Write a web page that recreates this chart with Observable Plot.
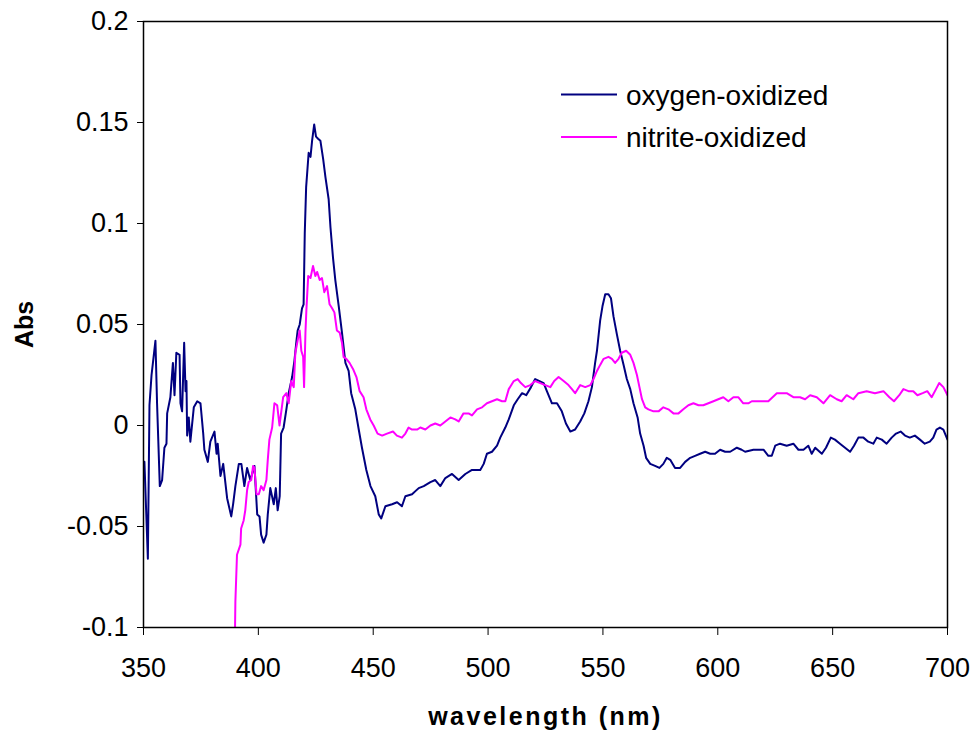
<!DOCTYPE html>
<html>
<head>
<meta charset="utf-8">
<script src="https://cdn.jsdelivr.net/npm/d3@7"></script>
<script src="https://cdn.jsdelivr.net/npm/@observablehq/plot@0.6"></script>
<style>
  html, body { margin: 0; padding: 0; background: white; }
  #wrap { position: relative; width: 978px; height: 736px; }
  #legend { position: absolute; left: 0; top: 0; pointer-events: none; }
</style>
</head>
<body>
<div id="wrap"></div>
<script>
// ---- data ----
const seriesNames = ["oxygen-oxidized", "nitrite-oxidized"];
const seriesColors = ["#000080", "#FF00FF"];
const xTicks = [350, 400, 450, 500, 550, 600, 650, 700];
const yTicks = [-0.1, -0.05, 0, 0.05, 0.1, 0.15, 0.2];

const oxyNm = [350.4,351.9,352.6,353.5,355.2,355.9,357.1,358.1,359.1,360.0,360.3,361.7,362.8,363.5,364.3,365.7,366.1,366.8,367.7,368.3,368.7,369.0,369.7,370.4,371.9,373.4,374.8,376.0,376.5,378.0,379.1,380.9,381.8,382.3,383.5,384.7,386.4,388.2,389.0,390.0,391.5,392.6,393.9,395.1,396.5,398.3,399.5,400.5,401.2,402.3,403.5,404.1,405.2,406.7,407.6,408.4,409.3,409.9,411.0,412.2,413.2,414.7,415.7,416.6,417.1,418.0,419.0,419.7,420.2,420.8,421.9,422.7,423.4,424.3,425.1,426.0,427.0,428.2,429.2,430.6,431.4,432.5,433.5,435.0,436.4,437.9,439.3,440.4,442.2,443.7,445.1,447.0,448.8,450.9,452.4,453.5,455.3,458.2,460.4,462.5,464.0,466.9,469.8,472.0,474.9,477.0,479.2,481.4,484.3,487.2,490.1,493.0,496.6,498.1,499.5,501.7,503.9,505.3,507.5,509.0,511.2,512.9,514.8,516.6,518.7,520.5,522.4,524.2,525.6,527.8,530.0,532.1,533.9,535.8,537.9,540.1,541.9,543.7,545.2,546.6,547.4,548.8,549.8,551.0,552.4,553.5,554.6,556.1,557.5,559.0,560.4,561.9,563.3,565.1,566.2,567.7,568.8,570.6,572.7,574.6,576.3,577.8,579.3,581.4,583.6,585.8,588.0,590.1,592.3,594.5,596.7,598.8,601.0,603.2,605.4,608.3,610.4,611.9,615.5,619.9,622.0,623.5,625.0,627.1,630.0,632.9,635.1,637.3,639.4,640.9,642.4,645.3,647.1,649.2,651.0,653.2,655.4,657.6,659.3,661.2,663.4,665.5,667.7,669.2,671.4,673.5,675.7,677.6,679.6,681.5,683.6,685.8,688.0,690.1,692.3,693.8,695.2,696.7,698.2,700.0];
const oxyAbs = [-0.018,-0.066,0.010,0.025,0.042,0.011,-0.030,-0.027,-0.011,-0.009,0.006,0.014,0.031,0.015,0.036,0.035,0.011,0.007,0.041,0.017,0.022,-0.005,0.004,-0.008,0.009,0.012,0.011,-0.004,-0.012,-0.018,-0.008,-0.003,-0.014,-0.009,-0.025,-0.019,-0.036,-0.045,-0.039,-0.030,-0.019,-0.019,-0.030,-0.021,-0.027,-0.020,-0.044,-0.045,-0.054,-0.058,-0.054,-0.044,-0.031,-0.039,-0.031,-0.042,-0.035,-0.004,-0.001,0.008,0.016,0.024,0.032,0.042,0.047,0.050,0.058,0.060,0.095,0.118,0.135,0.133,0.141,0.149,0.143,0.142,0.141,0.132,0.123,0.112,0.098,0.083,0.072,0.059,0.046,0.031,0.027,0.016,0.008,-0.002,-0.011,-0.022,-0.030,-0.035,-0.044,-0.046,-0.040,-0.039,-0.038,-0.040,-0.035,-0.034,-0.031,-0.030,-0.028,-0.027,-0.030,-0.026,-0.024,-0.027,-0.024,-0.022,-0.022,-0.019,-0.014,-0.013,-0.010,-0.006,-0.001,0.003,0.010,0.013,0.016,0.015,0.019,0.023,0.022,0.021,0.017,0.011,0.011,0.007,0.001,-0.003,-0.002,0.002,0.006,0.012,0.019,0.031,0.037,0.052,0.059,0.065,0.065,0.063,0.054,0.045,0.037,0.030,0.023,0.018,0.011,0.004,-0.004,-0.010,-0.016,-0.019,-0.020,-0.021,-0.019,-0.016,-0.017,-0.021,-0.021,-0.018,-0.016,-0.015,-0.014,-0.013,-0.014,-0.014,-0.012,-0.013,-0.013,-0.011,-0.012,-0.013,-0.012,-0.012,-0.015,-0.015,-0.010,-0.009,-0.010,-0.009,-0.012,-0.012,-0.010,-0.014,-0.011,-0.014,-0.011,-0.006,-0.007,-0.009,-0.011,-0.013,-0.010,-0.006,-0.006,-0.008,-0.009,-0.006,-0.007,-0.009,-0.006,-0.004,-0.003,-0.005,-0.006,-0.005,-0.007,-0.009,-0.008,-0.006,-0.002,-0.001,-0.002,-0.007];

const nitNm = [389.5,390.0,390.7,392.2,392.5,393.6,394.3,395.1,395.8,396.9,397.7,398.3,399.2,400.2,401.2,402.3,403.5,404.1,404.8,406.0,407.0,408.2,409.2,410.8,412.2,413.2,414.3,415.4,416.1,417.1,418.0,418.7,419.5,419.9,420.5,420.9,421.7,422.7,423.8,424.8,425.6,426.7,427.7,428.7,429.9,431.0,432.1,433.1,434.2,435.4,436.4,437.1,438.3,439.7,441.2,442.7,444.1,445.8,447.0,448.7,450.2,451.9,453.9,456.0,458.6,460.3,462.5,464.0,465.4,466.9,469.1,470.5,472.7,474.9,477.0,479.2,481.4,483.6,485.7,487.2,489.3,491.5,493.0,495.2,497.4,499.5,501.7,503.9,506.1,507.5,509.0,511.2,512.9,514.3,516.2,518.4,520.5,522.7,524.9,527.1,528.8,530.7,532.9,535.0,536.5,537.9,540.1,542.3,544.5,545.9,547.4,548.8,550.3,552.4,553.9,555.3,556.8,558.2,560.1,561.9,563.3,564.8,565.9,567.0,568.4,569.8,572.0,574.2,576.3,578.5,580.7,582.9,585.0,587.2,589.4,591.6,593.7,595.9,598.1,600.2,602.4,604.6,606.8,608.9,611.1,613.3,614.8,618.4,622.0,625.7,630.0,632.9,635.8,638.0,640.2,643.1,646.0,648.9,651.8,653.9,656.1,659.0,661.2,664.8,668.4,672.1,674.7,676.7,679.0,680.8,683.0,685.1,686.9,689.2,691.2,693.1,695.0,696.4,698.2,700.0];
const nitAbs = [-0.13,-0.087,-0.064,-0.059,-0.051,-0.047,-0.042,-0.032,-0.028,-0.027,-0.020,-0.021,-0.034,-0.034,-0.030,-0.032,-0.027,-0.017,-0.007,-0.001,0.011,0.010,0.000,0.014,0.016,0.011,0.022,0.019,0.036,0.042,0.047,0.037,0.034,0.019,0.046,0.057,0.074,0.073,0.079,0.074,0.076,0.072,0.073,0.066,0.069,0.060,0.058,0.056,0.047,0.046,0.041,0.034,0.033,0.031,0.028,0.024,0.017,0.014,0.008,0.003,0.000,-0.004,-0.005,-0.004,-0.003,-0.005,-0.006,-0.004,-0.001,-0.002,-0.002,-0.001,-0.002,0.000,0.001,0.000,0.002,0.004,0.003,0.002,0.006,0.006,0.005,0.008,0.009,0.011,0.012,0.013,0.012,0.012,0.018,0.022,0.023,0.021,0.019,0.020,0.022,0.021,0.020,0.019,0.022,0.024,0.022,0.020,0.018,0.016,0.020,0.019,0.020,0.023,0.027,0.030,0.033,0.034,0.033,0.031,0.033,0.036,0.037,0.035,0.031,0.025,0.019,0.013,0.009,0.008,0.007,0.007,0.009,0.008,0.006,0.006,0.008,0.010,0.011,0.010,0.010,0.011,0.012,0.013,0.014,0.012,0.014,0.014,0.011,0.011,0.012,0.012,0.012,0.016,0.016,0.014,0.014,0.013,0.015,0.014,0.011,0.015,0.013,0.012,0.015,0.013,0.016,0.017,0.016,0.017,0.014,0.012,0.015,0.018,0.017,0.017,0.015,0.016,0.017,0.014,0.018,0.021,0.019,0.015];

// ---- build tables ----
const oxyData = oxyNm.map((x, i) => ({x, y: oxyAbs[i]}));
const nitData = nitNm.map((x, i) => ({x, y: nitAbs[i]}));
const fmtY = d => String(+d.toFixed(2)).replace("\u2212", "-");

const font = "'Liberation Sans', Arial, Helvetica, sans-serif";

const chart = Plot.plot({
  width: 978,
  height: 736,
  marginLeft: 143,
  marginRight: 31,
  marginTop: 21,
  marginBottom: 109,
  style: {fontFamily: font, fontSize: "27px", background: "white", color: "black", overflow: "visible"},
  x: {domain: [350, 700]},
  y: {domain: [-0.1, 0.2]},
  marks: [
    Plot.axisX({ticks: xTicks, tickSize: 8, tickPadding: 22, tickFormat: d => String(d), label: null, fontSize: 27}),
    Plot.axisY({ticks: yTicks, tickSize: 6, tickPadding: 9, tickFormat: fmtY, label: null, fontSize: 27}),
    Plot.line(oxyData, {x: "x", y: "y", stroke: seriesColors[0], strokeWidth: 2, clip: true}),
    Plot.line(nitData, {x: "x", y: "y", stroke: seriesColors[1], strokeWidth: 2, clip: true}),
    Plot.frame({stroke: "black", strokeWidth: 1.5}),
    Plot.text(["wavelength (nm)"], {frameAnchor: "bottom", dy: 97, textAnchor: "middle", fontWeight: "bold", fontSize: 25, fill: "black"}),
    Plot.text(["Abs"], {frameAnchor: "left", dx: -119, dy: 0, textAnchor: "middle", lineAnchor: "middle", rotate: -90, fontWeight: "bold", fontSize: 25, fill: "black"})
  ]
});

chart.querySelectorAll("text").forEach(t => {
  if (t.textContent === "wavelength (nm)") t.setAttribute("letter-spacing", "2.5");
});

const wrap = document.getElementById("wrap");
wrap.appendChild(chart);

// ---- legend overlay ----
const ns = "http://www.w3.org/2000/svg";
const leg = document.createElementNS(ns, "svg");
leg.setAttribute("id", "legend");
leg.setAttribute("width", 978);
leg.setAttribute("height", 736);
seriesNames.forEach((name, i) => {
  const yLine = 94.5 + i * 42.4;
  const line = document.createElementNS(ns, "line");
  line.setAttribute("x1", 561); line.setAttribute("x2", 617);
  line.setAttribute("y1", yLine); line.setAttribute("y2", yLine);
  line.setAttribute("stroke", seriesColors[i]);
  line.setAttribute("stroke-width", 2);
  leg.appendChild(line);
  const txt = document.createElementNS(ns, "text");
  txt.setAttribute("x", 626);
  txt.setAttribute("y", yLine + 10);
  txt.setAttribute("font-family", font);
  txt.setAttribute("font-size", 28);
  txt.setAttribute("fill", "black");
  txt.textContent = name;
  leg.appendChild(txt);
});
wrap.appendChild(leg);
</script>
</body>
</html>
